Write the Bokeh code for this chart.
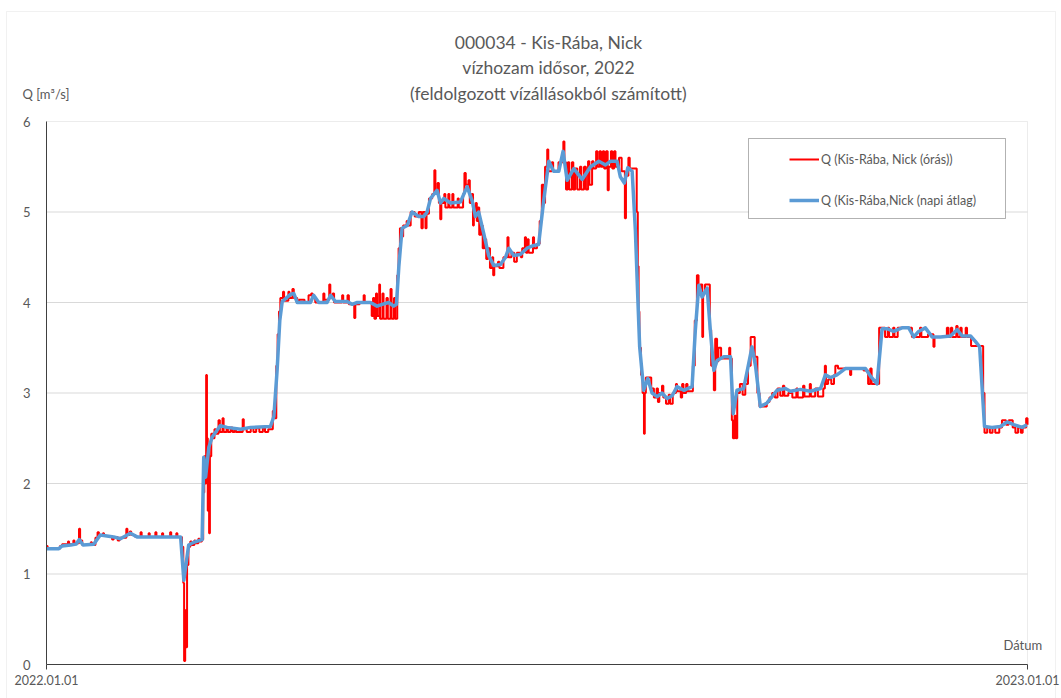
import pandas as pd
from bokeh.plotting import figure
from bokeh.models import (Range1d, FixedTicker, DatetimeTickFormatter, Label, LinearAxis,
                          DatetimeAxis, Legend, LegendItem, BoxAnnotation)
from bokeh.embed import file_html
from bokeh.resources import INLINE

START = pd.Timestamp("2022-01-01")
END = pd.Timestamp("2023-01-01")

TITLE_LINES = ["000034 - Kis-Rába, Nick",
               "vízhozam idősor, 2022",
               "(feldolgozott vízállásokból számított)"]
Y_LABEL = "Q [m³/s]"
X_LABEL = "Dátum"
HOURLY_NAME = "Q (Kis-Rába, Nick (órás))"
DAILY_NAME = "Q (Kis-Rába,Nick (napi átlag)"
y_ticks = [0, 1, 2, 3, 4, 5, 6]

# hourly discharge: (day offset from 2022-01-01, Q m3/s), value holds until next entry
hourly_pts = [
    (0, 1.31), (0.4, 1.28), (5, 1.31), (5.8, 1.33), (8, 1.36), (8.4, 1.33), (10, 1.37), (10.4, 1.34),
    (12.1, 1.50), (12.5, 1.37), (13.3, 1.32), (16.5, 1.35), (16.9, 1.32), (18.2, 1.40), (19.0, 1.46),
    (19.5, 1.43), (21.0, 1.45), (21.4, 1.42), (24.4, 1.38), (25.0, 1.41), (26.5, 1.37), (27.2, 1.40),
    (29.7, 1.50), (30.1, 1.43), (31.0, 1.47), (31.5, 1.43), (33.0, 1.41), (35.0, 1.46), (35.4, 1.41),
    (38.0, 1.45), (38.4, 1.41), (40.5, 1.46), (40.9, 1.41), (43.0, 1.45), (43.4, 1.41), (46.0, 1.46),
    (46.4, 1.41), (48.3, 1.45), (48.7, 1.41), (50.4, 1.30), (50.9, 0.9), (51.2, 0.04), (51.6, 0.6),
    (51.9, 0.19), (52.3, 1.1), (52.8, 1.30), (53.5, 1.36), (54.0, 1.32), (55.0, 1.37), (55.4, 1.34),
    (56.5, 1.39), (57.0, 1.36), (57.8, 1.38), (58.3, 1.9), (58.7, 2.3), (59.1, 2.0), (59.4, 3.2),
    (59.7, 2.5), (60.0, 1.7), (60.3, 2.4), (60.5, 1.45), (60.8, 2.3), (61.3, 2.55), (62.0, 2.5),
    (62.5, 2.6), (63.0, 2.55), (64.0, 2.70), (64.5, 2.57), (65.5, 2.72), (65.9, 2.57), (67.0, 2.62),
    (67.5, 2.57), (68.5, 2.62), (69.2, 2.57), (70.0, 2.61), (70.5, 2.57), (73.0, 2.71), (73.4, 2.60),
    (74.5, 2.57), (76.0, 2.62), (77.0, 2.57), (78.0, 2.61), (79.2, 2.57), (80.5, 2.61), (81.3, 2.57),
    (82.5, 2.60), (84.2, 2.80), (84.8, 2.72), (85.5, 3.3), (86.0, 3.65), (86.5, 3.9), (87.0, 4.05),
    (88.0, 4.12), (88.4, 4.02), (90.0, 4.12), (90.4, 4.05), (91.5, 4.15), (92.0, 4.05), (93.3, 4.0),
    (94.0, 4.03), (96.0, 4.0), (97.5, 4.08), (98.5, 4.1), (99.0, 4.05), (100.0, 4.0), (103.0, 4.1),
    (103.4, 4.03), (105.2, 4.2), (105.6, 4.05), (106.5, 4.1), (107.0, 4.0), (110.0, 4.08), (110.4, 4.0),
    (112.0, 4.08), (112.5, 3.98), (114.5, 3.83), (114.9, 3.98), (116.5, 4.0), (118.0, 4.08), (118.4, 4.0),
    (121.0, 3.85), (121.5, 4.05), (122.0, 3.82), (122.6, 4.1), (123.0, 3.85), (123.8, 4.2), (124.1, 3.82),
    (125.0, 4.1), (125.4, 3.82), (126.5, 4.05), (127.0, 3.82), (128.0, 4.15), (128.4, 3.82), (129.3, 4.05),
    (129.7, 3.82), (130.5, 4.3), (131.0, 4.6), (131.5, 4.82), (132.3, 4.73), (132.7, 4.85), (134.0, 4.9),
    (134.5, 4.85), (135.5, 5.0), (137.0, 4.95), (138.5, 5.0), (139.5, 4.82), (140.0, 5.0), (141.0, 4.82),
    (141.4, 4.98), (142.3, 5.15), (143.5, 5.2), (144.3, 5.46), (144.7, 5.2), (145.5, 5.32), (146.0, 5.1),
    (146.5, 4.92), (146.9, 5.1), (148.0, 5.2), (148.4, 5.05), (149.5, 5.2), (149.9, 5.05), (151.0, 5.2),
    (151.4, 5.05), (153.0, 5.15), (153.4, 5.05), (155.0, 5.2), (155.5, 5.43), (156.0, 5.3), (157.0, 5.35),
    (157.5, 5.1), (158.2, 5.2), (158.7, 4.85), (159.0, 5.0), (159.7, 5.1), (160.1, 4.9), (160.6, 5.05),
    (161.0, 4.75), (161.7, 4.85), (162.3, 4.6), (163.0, 4.7), (163.6, 4.48), (164.3, 4.6), (165.0, 4.38),
    (165.8, 4.5), (166.2, 4.3), (166.6, 4.4), (168.0, 4.45), (168.5, 4.38), (170.0, 4.5), (171.5, 4.72),
    (171.9, 4.5), (173.0, 4.55), (174.0, 4.45), (175.0, 4.55), (176.5, 4.5), (177.0, 4.6), (178.0, 4.72),
    (178.4, 4.55), (179.0, 4.7), (179.4, 4.55), (181.0, 4.72), (181.4, 4.6), (182.5, 4.65), (183.5, 4.9),
    (184.3, 5.3), (185.0, 5.1), (185.5, 5.5), (186.3, 5.69), (186.7, 5.45), (188.0, 5.55), (188.5, 5.45),
    (190.5, 5.55), (192.3, 5.78), (192.7, 5.55), (193.3, 5.25), (194.0, 5.55), (194.5, 5.25), (195.5, 5.55),
    (196.0, 5.25), (196.7, 5.48), (197.5, 5.25), (198.5, 5.5), (199.0, 5.25), (200.0, 5.5), (200.7, 5.25),
    (201.5, 5.56), (202.0, 5.3), (203.0, 5.56), (203.5, 5.48), (204.5, 5.67), (205.0, 5.5), (205.8, 5.67),
    (206.3, 5.5), (207.0, 5.67), (207.5, 5.48), (208.2, 5.67), (208.8, 5.24), (209.2, 5.5), (210.0, 5.67),
    (210.5, 5.48), (211.2, 5.67), (211.7, 5.5), (213.0, 5.6), (214.0, 5.45), (215.2, 4.93), (215.6, 5.4),
    (216.5, 5.6), (217.0, 5.48), (219.6, 5.0), (220.0, 4.4), (220.3, 3.9), (220.6, 3.5), (221.2, 3.2),
    (221.8, 3.0), (222.3, 2.55), (222.6, 3.0), (223.0, 3.17), (225.0, 3.05), (226.0, 2.95), (227.0, 3.05),
    (227.5, 2.9), (228.0, 3.0), (229.0, 3.08), (229.5, 2.95), (230.5, 2.88), (231.5, 2.98), (232.0, 2.88),
    (233.0, 3.0), (234.2, 3.1), (234.6, 3.02), (236.0, 2.95), (236.5, 3.1), (237.0, 3.0), (238.0, 3.1),
    (238.5, 3.02), (240.5, 3.3), (241.2, 3.8), (242.0, 4.3), (242.6, 4.15), (243.3, 4.2), (244.0, 3.62),
    (244.3, 4.1), (245.0, 4.2), (246.8, 3.7), (247.3, 3.3), (248.3, 3.03), (248.8, 3.6), (249.5, 3.35),
    (250.0, 3.5), (251.0, 3.38), (254.0, 3.5), (254.4, 3.38), (255.0, 2.7), (255.4, 2.5), (256.0, 2.75),
    (256.5, 2.5), (257.0, 3.0), (258.0, 3.1), (259.0, 2.98), (260.0, 3.1), (261.0, 3.3), (262.0, 3.62),
    (263.5, 3.4), (264.5, 3.0), (265.3, 2.85), (268.0, 2.9), (269.0, 2.95), (270.0, 3.0), (271.0, 2.95),
    (272.0, 3.05), (273.0, 2.97), (274.0, 3.08), (274.5, 2.97), (276.0, 3.0), (277.5, 2.95), (279.0, 3.05),
    (279.5, 2.95), (281.5, 3.08), (282.0, 2.96), (284.0, 3.1), (284.4, 2.96), (286.0, 3.05), (287.0, 2.96),
    (289.0, 3.05), (289.6, 3.3), (290.0, 3.1), (290.8, 3.15), (292.0, 3.1), (293.0, 3.2), (293.5, 3.3),
    (294.5, 3.27), (299.0, 3.2), (299.4, 3.27), (304.0, 3.25), (305.7, 3.1), (306.5, 3.27), (307.0, 3.1),
    (309.8, 3.72), (312.0, 3.62), (313.0, 3.72), (313.5, 3.62), (315.0, 3.72), (315.5, 3.62), (316.7, 3.72),
    (322.0, 3.62), (325.0, 3.72), (325.5, 3.62), (328.0, 3.65), (330.0, 3.51), (330.4, 3.62), (335.0, 3.72),
    (335.6, 3.62), (336.5, 3.72), (337.0, 3.62), (338.5, 3.74), (339.0, 3.62), (340.0, 3.72), (340.5, 3.62),
    (342.0, 3.72), (342.5, 3.62), (344.0, 3.52), (348.5, 3.0), (349.0, 2.56), (350.0, 2.62), (351.0, 2.56),
    (352.0, 2.62), (353.0, 2.56), (354.5, 2.62), (355.5, 2.7), (357.0, 2.65), (358.0, 2.7), (359.5, 2.62),
    (360.5, 2.56), (361.5, 2.62), (362.5, 2.56), (363.2, 2.62), (364.5, 2.72), (365.0, 2.65),
]

# daily mean discharge: (day offset from 2022-01-01, Q m3/s)
daily_pts = [
    (0, 1.28), (4.6, 1.28), (5.8, 1.31), (9, 1.32), (11, 1.33), (12.2, 1.38), (13.6, 1.32), (17.6, 1.33),
    (20, 1.43), (25, 1.41), (27.5, 1.39), (31.2, 1.45), (33.7, 1.41), (49.9, 1.41), (51.1, 0.93),
    (52.9, 1.32), (54.8, 1.35), (57.9, 1.38), (58.5, 2.29), (59.2, 2.07), (60.4, 2.40), (61.6, 2.51),
    (64.7, 2.64), (67.2, 2.62), (72.2, 2.60), (75.9, 2.62), (83.3, 2.63), (84.6, 2.74), (85.8, 3.25),
    (86.8, 3.80), (87.7, 4.01), (90.8, 4.09), (92, 4.10), (93.3, 4.00), (98.2, 4.00), (99.4, 4.08),
    (101.3, 4.00), (104.4, 4.00), (105.7, 4.08), (107.5, 4.01), (111.9, 4.01), (113.7, 3.98), (115.6, 4.00),
    (120.5, 4.00), (123, 3.96), (124.9, 3.98), (127.3, 4.00), (129.2, 3.96), (130.2, 3.98), (131.1, 4.40),
    (132.3, 4.82), (134.2, 4.85), (136, 5.00), (138.5, 4.95), (140.4, 4.95), (141.6, 5.00), (142.9, 5.15),
    (145.3, 5.24), (146.6, 5.10), (147.8, 5.15), (150.3, 5.10), (154, 5.11), (156.5, 5.28), (158.4, 5.12),
    (159.6, 4.95), (160.8, 5.00), (162.7, 4.76), (164.5, 4.52), (166.4, 4.41), (168.9, 4.42), (170.8, 4.50),
    (172, 4.60), (173.8, 4.52), (176.3, 4.53), (178.8, 4.60), (181.3, 4.63), (183.1, 4.64), (185, 5.13),
    (186.9, 5.56), (188.7, 5.45), (190.6, 5.45), (192.2, 5.67), (193.7, 5.35), (196.2, 5.48), (199.3, 5.36),
    (202.4, 5.50), (205.5, 5.56), (208, 5.52), (209.8, 5.56), (212.3, 5.56), (213.5, 5.39), (215, 5.32),
    (216.3, 5.49), (217.9, 5.45), (219.1, 4.80), (220, 4.06), (220.7, 3.51), (222.2, 3.03), (223.7, 3.16),
    (225.3, 3.00), (227.2, 2.96), (229, 3.00), (230.9, 2.94), (232.8, 2.97), (234.6, 3.07), (237.1, 3.03),
    (240.2, 3.07), (241.4, 3.69), (242.7, 4.19), (243.9, 4.06), (245.8, 4.16), (247, 3.69), (248.3, 3.25),
    (249.5, 3.36), (252, 3.40), (254.5, 3.40), (255.5, 2.77), (256.9, 3.03), (259.4, 3.05), (261.3, 3.33),
    (262.5, 3.51), (263.8, 3.30), (265.6, 2.85), (268.1, 2.89), (271.8, 3.03), (274.9, 3.05), (276.8, 3.02),
    (280.5, 3.04), (284.2, 3.02), (288, 3.05), (289.8, 3.20), (291.7, 3.17), (294.1, 3.20), (297.2, 3.27),
    (300.9, 3.27), (304.7, 3.27), (306.5, 3.19), (309, 3.10), (310.9, 3.71), (312.7, 3.71), (315.2, 3.68),
    (318.3, 3.72), (320.8, 3.72), (322.7, 3.62), (324.5, 3.68), (327, 3.72), (329.5, 3.62), (332.6, 3.62),
    (336.3, 3.63), (338.8, 3.70), (340.7, 3.63), (343.8, 3.63), (345.6, 3.57), (347.2, 3.51), (348.1, 3.07),
    (349, 2.63), (351.8, 2.62), (354.9, 2.63), (357.4, 2.68), (359.9, 2.65), (363, 2.62), (364.8, 2.65),
]

hourly_day, hourly_q = zip(*hourly_pts)
daily_day, daily_q = zip(*daily_pts)
hourly_t = START + pd.to_timedelta(list(hourly_day), unit="D")
daily_t = START + pd.to_timedelta(list(daily_day), unit="D")

# page geometry (pixels): canvas and the plotting area inside it
W, H = 1061, 698
AREA_L, AREA_R, AREA_T, AREA_B = 46, 1027, 121, 664

px_per_day = (AREA_R - AREA_L) / (END - START).days
px_per_q = (AREA_B - AREA_T) / (y_ticks[-1] - y_ticks[0])
x_lo = START - pd.Timedelta(days=AREA_L / px_per_day)
x_hi = END + pd.Timedelta(days=(W - AREA_R) / px_per_day)
y_lo = y_ticks[0] - (H - AREA_B) / px_per_q
y_hi = y_ticks[-1] + AREA_T / px_per_q

GREY_TEXT = "#595959"
FONT = "Lato"
start_ms = START.value // 10**6
end_ms = END.value // 10**6

p = figure(width=W, height=H, x_range=Range1d(x_lo, x_hi), y_range=Range1d(y_lo, y_hi),
           x_axis_type=None, y_axis_type=None,
           output_backend="svg", toolbar_location=None, min_border=0)
p.outline_line_color = None
p.background_fill_color = "white"
p.border_fill_color = "white"

# outer chart border
p.add_layout(BoxAnnotation(left=6, right=1055, top=H - 11, bottom=-10,
                           left_units="screen", right_units="screen",
                           top_units="screen", bottom_units="screen",
                           fill_alpha=0, line_color="#d0d0d0", line_width=1, level="underlay"))

# horizontal gridlines and plot-area frame
grid_q = y_ticks[1:-1]
p.segment(x0=[START] * len(grid_q), x1=[END] * len(grid_q), y0=grid_q, y1=grid_q,
          line_color="#d9d9d9", line_width=1, level="underlay")
p.add_layout(BoxAnnotation(left=START, right=END, bottom=y_ticks[0], top=y_ticks[-1],
                           fill_alpha=0, line_color="#c0c0c0", line_width=1, level="underlay"))

r_hourly = p.step(hourly_t, hourly_q, mode="after", line_color="#ff0000", line_width=2)
r_daily = p.line(daily_t, daily_q, line_color="#5b9bd5", line_width=3.5, line_join="round")

# axes drawn at the plot-area edges
yaxis = LinearAxis(fixed_location=start_ms, bounds=(y_ticks[0], y_ticks[-1]),
                   ticker=FixedTicker(ticks=y_ticks))
yaxis.major_tick_line_color = None
yaxis.minor_tick_line_color = None
yaxis.axis_line_color = "#404040"
yaxis.major_label_text_color = GREY_TEXT
yaxis.major_label_text_font = FONT
yaxis.major_label_text_font_size = "13px"
yaxis.major_label_standoff = 10
p.add_layout(yaxis, "left")

fmt = "%Y.%m.%d"
xaxis = DatetimeAxis(fixed_location=y_ticks[0], bounds=(start_ms, end_ms),
                     ticker=FixedTicker(ticks=[start_ms, end_ms]),
                     formatter=DatetimeTickFormatter(
                         microseconds=fmt, milliseconds=fmt, seconds=fmt, minsec=fmt,
                         minutes=fmt, hourmin=fmt, hours=fmt, days=fmt, months=fmt, years=fmt))
xaxis.axis_line_color = "#404040"
xaxis.major_tick_line_color = "#404040"
xaxis.major_tick_out = 5
xaxis.major_tick_in = 0
xaxis.minor_tick_line_color = None
xaxis.major_label_text_color = GREY_TEXT
xaxis.major_label_text_font = FONT
xaxis.major_label_text_font_size = "12.5px"
xaxis.major_label_standoff = 5
p.add_layout(xaxis, "below")

# titles and axis captions
for text, y in zip(TITLE_LINES, [42, 67, 93]):
    p.add_layout(Label(x=548, y=H - y, x_units="screen", y_units="screen", text=text,
                       text_align="center", text_baseline="middle",
                       text_font=FONT, text_font_size="17.5px", text_color=GREY_TEXT))
p.add_layout(Label(x=22, y=H - 93, x_units="screen", y_units="screen", text=Y_LABEL,
                   text_align="left", text_baseline="middle",
                   text_font=FONT, text_font_size="13px", text_color=GREY_TEXT))
p.add_layout(Label(x=1003, y=H - 644, x_units="screen", y_units="screen", text=X_LABEL,
                   text_align="left", text_baseline="middle",
                   text_font=FONT, text_font_size="13px", text_color=GREY_TEXT))

# legend frame and entries
p.add_layout(BoxAnnotation(left=748, right=1005, top=H - 138, bottom=H - 218,
                           left_units="screen", right_units="screen",
                           top_units="screen", bottom_units="screen",
                           fill_color="white", fill_alpha=1,
                           line_color="#000000", line_width=1))
legend = Legend(items=[LegendItem(label=HOURLY_NAME, renderers=[r_hourly]),
                       LegendItem(label=DAILY_NAME, renderers=[r_daily])],
                location=(789, H - 210), padding=0, spacing=21, margin=0,
                glyph_width=30, glyph_height=20, label_height=20, label_standoff=2,
                label_text_font=FONT, label_text_font_size="12.5px",
                label_text_color=GREY_TEXT,
                border_line_alpha=0, background_fill_alpha=0)
p.add_layout(legend, "center")

open("out.html", "w").write(file_html(p, INLINE))
